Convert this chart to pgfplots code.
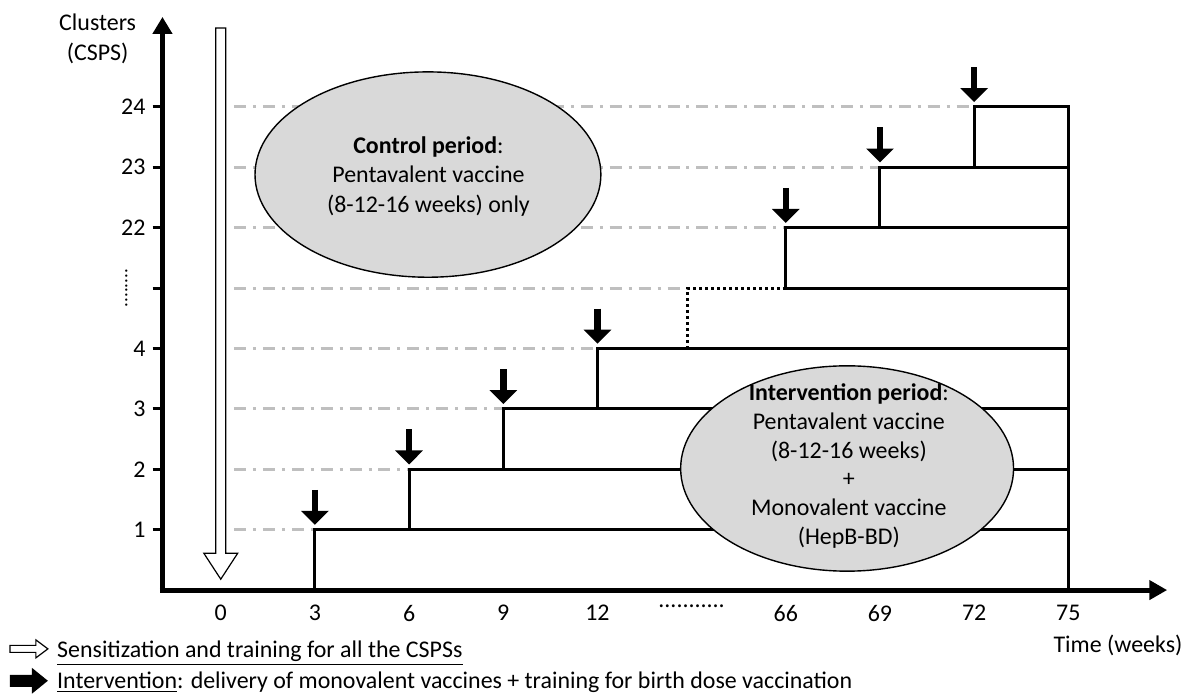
\documentclass[border=0pt]{standalone}
\usepackage{fontspec}
\setmainfont{Carlito}
\usepackage{graphicx}
\usepackage{pgfplots}
\pgfplotsset{compat=1.18}
\usepackage{pgfplotstable}
\usetikzlibrary{arrows.meta}
\definecolor{dashgray}{RGB}{191,191,191}
\definecolor{ellgray}{RGB}{217,217,217}
\newcommand{\hdotslabel}{...........}
\newcommand{\vdotslabel}{\hbox{\rotatebox{90}{\fontsize{9.5}{10}\selectfont ........}\kern 9pt}}

% staircase (x index: 0=0,1=3,2=6,3=9,4=12,5=...,6=66,7=69,8=72,9=75 weeks; y index: cluster rows)
\pgfplotstableread{
x y
1 0
1 1
9 1
nan nan
2 1
2 2
9 2
nan nan
3 2
3 3
9 3
nan nan
4 3
4 4
9 4
nan nan
6 5
9 5
nan nan
6 5
6 6
9 6
nan nan
7 6
7 7
9 7
nan nan
8 7
8 8
9 8
9 0
}\steps

\pgfplotstableread{
x y
0.14 1
1 1
nan nan
0.14 2
2 2
nan nan
0.14 3
3 3
nan nan
0.14 4
4 4
nan nan
0.14 5
4.96 5
nan nan
0.14 6
6 6
nan nan
0.14 7
7 7
nan nan
0.14 8
8 8
}\guides

\pgfplotstableread{
x y
1 1.66
2 2.66
3 3.66
4 4.66
6 6.66
7 7.66
8 8.66
}\interv

\begin{document}
\begin{tikzpicture}[font=\fontsize{12}{14.5}\selectfont]
\path (0,0) rectangle (594.5pt,349.5pt);
\begin{axis}[
  at={(81.5pt,53.5pt)}, anchor=south west,
  scale only axis, width=504pt, height=287.5pt,
  xmin=-0.619, xmax=10.05, ymin=0, ymax=9.49,
  axis line style={draw=none},
  clip=false,
  unbounded coords=jump,
  xtick={0,1,2,3,4,5,6,7,8,9},
  xticklabels={0,3,6,9,12,\hdotslabel,66,69,72,75},
  xtick style={draw=none},
  ytick={1,2,3,4,5,6,7,8},
  yticklabels={1,2,3,4,\vdotslabel,22,23,24},
  ytick pos=left, tick align=outside,
  ytick style={line width=1.5pt, black},
  major tick length=5pt,
  xticklabel style={yshift=1pt},
]
\addplot[dashgray, line width=1.5pt, dash pattern=on 6pt off 3.5pt on 1.5pt off 3.5pt] table {\guides};
\addplot[black, line width=1.5pt] table {\steps};
\addplot[black, line width=1.6pt, dash pattern=on 1.5pt off 1.5pt] coordinates {(4.96,4) (4.96,5) (6,5)};

\draw[fill=ellgray, line width=0.7pt] (axis cs:2.2,6.88) ellipse [x radius=86.75pt, y radius=51.5pt];
\node[align=center, font=\fontsize{12}{15}\selectfont] at (axis cs:2.205,6.848)
  {\textbf{Control period}:\\Pentavalent vaccine\\(8-12-16 weeks) only};
\draw[fill=ellgray, line width=0.7pt] (axis cs:6.651,2.013) ellipse [x radius=83.5pt, y radius=51.5pt];
\node[align=center, font=\fontsize{12}{14.5}\selectfont] at (axis cs:6.669,2.054)
  {\textbf{Intervention period}:\\Pentavalent vaccine\\(8-12-16 weeks)\\+\\Monovalent vaccine\\(HepB-BD)};

\addplot[black, line width=3.3pt, quiver={u=0, v=-0.58}, -{Triangle[length=7pt,width=13.5pt]}] table {\interv};

% axes
\draw[line width=2.5pt, -{Triangle[length=8.5pt,width=9.5pt]}] ([yshift=-1.25pt]axis cs:-0.619,0) -- (axis cs:-0.619,9.49);
\draw[line width=2.5pt, -{Triangle[length=9pt,width=9.5pt]}] ([xshift=-1.25pt]axis cs:-0.619,0) -- (axis cs:10.05,0);

% sensitization arrow at time 0
\draw[fill=white, line width=0.6pt]
  ([xshift=-2.5pt]axis cs:0,9.307) -- ([xshift=2.5pt]axis cs:0,9.307)
  -- ([xshift=2.5pt]axis cs:0,0.61) -- ([xshift=8.5pt]axis cs:0,0.61)
  -- (axis cs:0,0.18) -- ([xshift=-8.5pt]axis cs:0,0.61)
  -- ([xshift=-2.5pt]axis cs:0,0.61) -- cycle;

\node[align=center, font=\fontsize{12}{15}\selectfont] at (rel axis cs:-0.0645,0.9617) {Clusters\\(CSPS)};
\node at (rel axis cs:0.951,-0.0974) {Time (weeks)};
\end{axis}

% legend
\draw[fill=white, line width=0.6pt] (5pt,22.25pt) -- (18pt,22.25pt) -- (18pt,19.5pt) -- (24pt,24pt)
  -- (18pt,28.5pt) -- (18pt,25.75pt) -- (5pt,25.75pt) -- cycle;
\node[anchor=base west, inner sep=0pt] at (28.5pt,19.5pt) {\underline{Sensitization and training for all the CSPSs}};
\fill[black] (5pt,5pt) -- (16pt,5pt) -- (16pt,1.5pt) -- (24pt,8pt) -- (16pt,14.5pt) -- (16pt,11pt) -- (5pt,11pt) -- cycle;
\node[anchor=base west, inner sep=0pt] at (28.5pt,4pt) {\underline{Intervention}: delivery of monovalent vaccines + training for birth dose vaccination};
\end{tikzpicture}
\end{document}
